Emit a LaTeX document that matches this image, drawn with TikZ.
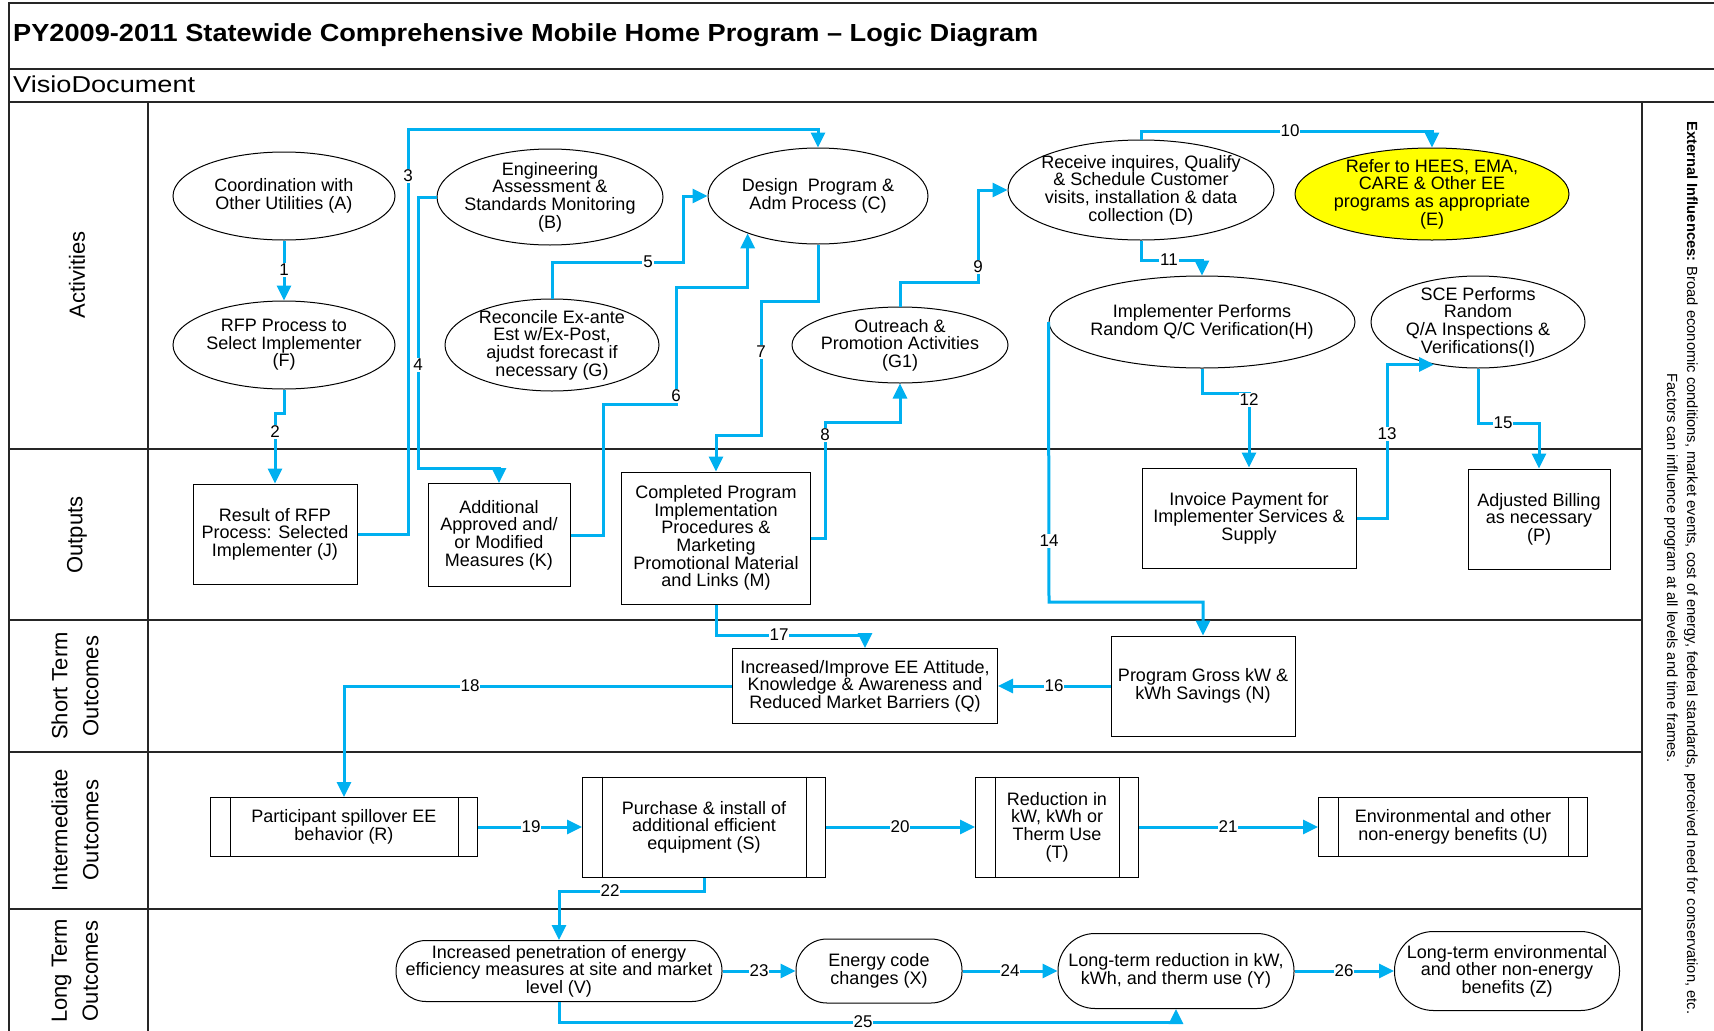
\documentclass[tikz,border=0pt]{standalone}
\usepackage{fontspec}
\setmainfont{Liberation Sans}
\usepackage{graphicx}
\usetikzlibrary{shapes.geometric,arrows.meta,calc}
\definecolor{linkblue}{RGB}{0,176,240}
\definecolor{hiyellow}{RGB}{255,255,0}
\newcommand{\nfnt}{\fontsize{18pt}{17.6pt}\selectfont}
\newcommand{\lfnt}{\fontsize{17pt}{17pt}\selectfont}
\newcommand{\lanefnt}{\fontsize{22pt}{31pt}\selectfont}
\begin{document}
\begin{tikzpicture}[x=1pt,y=-1pt,
  frame/.style={draw=black!85,line width=1.5pt},
  ell/.style={draw=black,line width=1pt,ellipse,inner sep=0pt},
  txt/.style={align=center,font=\nfnt,inner sep=0pt},
  box/.style={draw=black,line width=1pt,rectangle,inner sep=0pt,align=center,font=\nfnt},
  stad/.style={draw=black,line width=1pt,rectangle,inner sep=0pt,align=center,font=\nfnt},
  conn/.style={draw=linkblue,line width=3pt,-{Triangle[length=15pt,width=14pt]}},
  plain/.style={draw=linkblue,line width=3pt},
  lbl/.style={fill=white,inner sep=1pt,font=\lfnt},
  lane/.style={rotate=90,align=center,font=\lanefnt,inner sep=0pt}]
\fill[white] (0,0) rectangle (1714,1031);
\useasboundingbox (0,0) rectangle (1714,1031);

% frame
\draw[frame] (9,1031) -- (9,3) -- (1714,3);
\draw[frame] (9,69) -- (1714,69);
\draw[frame] (9,102) -- (1714,102);
\draw[frame] (148,102) -- (148,1031);
\draw[frame] (1642,102) -- (1642,1031);
\foreach \yy in {449,620,752,909} \draw[frame] (9,\yy) -- (1642,\yy);

\node[anchor=west,inner sep=0pt] (title) at (13,35)
  {\scalebox{1.1}[1]{\fontsize{24.7pt}{26pt}\selectfont\bfseries PY2009-2011 Statewide Comprehensive Mobile Home Program – Logic Diagram}};
\node[anchor=west,inner sep=0pt] (visio) at (13,84)
  {\scalebox{1.18}[1]{\fontsize{23pt}{25pt}\selectfont VisioDocument}};

% lane labels
\node[lane] (lact) at (77,275) {Activities};
\node[lane] (lout) at (77,535) {Outputs};
\node[lane] (lshort) at (75,686) {Short Term\\Outcomes};
\node[lane] (linter) at (75,830) {Intermediate\\Outcomes};
\node[lane] (llong) at (75,971) {Long Term\\Outcomes};

\node[rotate=-90,align=center,inner sep=0pt,font=\fontsize{14.7pt}{20pt}\selectfont] (ext) at (1681,568)
  {\textbf{External Influences:} Broad economic conditions, market events, cost of energy, federal standards, perceived need for conservation, etc.\\Factors can influence program at all levels and time frames.};

% Activities
\node[ell,minimum width=222pt,minimum height=88pt] (A) at (284,196) {};
\node[txt] (At) at (A.center) {Coordination with\\Other Utilities (A)};
\node[ell,minimum width=222pt,minimum height=88pt] (F) at (284,345) {};
\node[txt] (Ft) at (F.center) {RFP Process to\\Select Implementer\\(F)};
\node[ell,minimum width=226pt,minimum height=96pt] (B) at (550,197) {};
\node[txt] (Bt) at (B.center) {Engineering\\Assessment \&\\Standards Monitoring\\(B)};
\node[ell,minimum width=214pt,minimum height=92pt] (G) at (552,345) {};
\node[txt] (Gt) at (G.center) {Reconcile Ex-ante\\Est w/Ex-Post,\\ajudst forecast if\\necessary (G)};
\node[ell,minimum width=220pt,minimum height=96pt] (C) at (818,196) {};
\node[txt] (Ct) at (C.center) {Design\ \ Program \&\\Adm Process (C)};
\node[ell,minimum width=216pt,minimum height=76pt] (G1) at (900,345) {};
\node[txt] (G1t) at (G1.center) {Outreach \&\\Promotion Activities\\(G1)};
\node[ell,minimum width=266pt,minimum height=100pt] (D) at (1141,190) {};
\node[txt] (Dt) at (D.center) {Receive inquires, Qualify\\\& Schedule Customer\\visits, installation \& data\\collection (D)};
\node[ell,fill=hiyellow,minimum width=274pt,minimum height=92pt] (E) at (1432,194) {};
\node[txt] (Et) at (E.center) {Refer to HEES, EMA,\\CARE \& Other EE\\programs as appropriate\\(E)};
\node[ell,minimum width=306pt,minimum height=92pt] (H) at (1202,322) {};
\node[txt] (Ht) at (H.center) {Implementer Performs\\Random Q/C Verification(H)};
\node[ell,minimum width=214pt,minimum height=92pt] (I) at (1478,322) {};
\node[txt] (It) at (I.center) {SCE Performs\\Random\\Q/A Inspections \&\\Verifications(I)};

% Outputs
\node[box,minimum width=164pt,minimum height=100pt] (J) at (275,534) {Result of RFP\\Process: Selected\\Implementer (J)};
\node[box,minimum width=142pt,minimum height=103pt] (K) at (499,535) {Additional\\Approved and/\\or Modified\\Measures (K)};
\node[box,minimum width=189pt,minimum height=132pt] (M) at (716,538) {Completed Program\\Implementation\\Procedures \&\\Marketing\\Promotional Material\\and Links (M)};
\node[box,minimum width=214pt,minimum height=100pt] (Inv) at (1249,518) {Invoice Payment for\\Implementer Services \&\\Supply};
\node[box,minimum width=142pt,minimum height=100pt] (P) at (1539,519) {Adjusted Billing\\as necessary\\(P)};

% Short term
\node[box,minimum width=265pt,minimum height=75pt] (Q) at (865,686) {Increased/Improve EE Attitude,\\Knowledge \& Awareness and\\Reduced Market Barriers (Q)};
\node[box,minimum width=184pt,minimum height=100pt] (N) at (1203,686) {Program Gross kW \&\\kWh Savings (N)};

% Intermediate
\node[box,minimum width=267pt,minimum height=59pt] (R) at (344,827) {Participant spillover EE\\behavior (R)};
\node[box,minimum width=243pt,minimum height=100pt] (S) at (704,827) {Purchase \& install of\\additional efficient\\equipment (S)};
\node[box,minimum width=163pt,minimum height=100pt] (T) at (1057,827) {Reduction in\\kW, kWh or\\Therm Use\\(T)};
\node[box,minimum width=269pt,minimum height=59pt] (U) at (1453,827) {Environmental and other\\non-energy benefits (U)};
\foreach \nn in {R,S,T,U}{
  \draw[line width=1pt] ([xshift=20pt]\nn.north west) -- ([xshift=20pt]\nn.south west);
  \draw[line width=1pt] ([xshift=-20pt]\nn.north east) -- ([xshift=-20pt]\nn.south east);
}

% Long term
\node[stad,rounded corners=30pt,minimum width=326pt,minimum height=61pt] (V) at (559,971) {Increased penetration of energy\\efficiency measures at site and market\\level (V)};
\node[stad,rounded corners=31pt,minimum width=166pt,minimum height=64pt] (X) at (879,971) {Energy code\\changes (X)};
\node[stad,rounded corners=37pt,minimum width=236pt,minimum height=75pt] (Y) at (1176,971) {Long-term reduction in kW,\\kWh, and therm use (Y)};
\node[stad,rounded corners=39pt,minimum width=225pt,minimum height=79pt] (Z) at (1507,971) {Long-term environmental\\and other non-energy\\benefits (Z)};

% connectors
\draw[conn] (A.south) -- (F.north);
\draw[conn] (F.south) -- (284,413) -| (J.north);
\draw[conn] (J.east) -| (408,129) -| (C.north);
\draw[conn] (B.west) -| (418,468) -| (K.north);
\draw[conn] (G.north) |- (683,262) |- (C.west);
\draw[conn] (K.east) -| (603,404) -| (676,287) -| (C.208);
\draw[conn] (C.south) |- (761,301) |- (716,435) -- (M.north);
\draw[conn] (M.east) -| (825,422) -| (G1.south);
\draw[conn] (G1.north) |- (978,282) |- (D.west);
\draw[conn] (D.north) -- (1141,131) -| (E.north);
\draw[conn] (D.south) -- (1141,260) -| (H.north);
\draw[conn] (H.south) -- (1202,393) -| (Inv.north);
\draw[conn] (Inv.east) -- (1387,518) |- (I.224);
\draw[conn] (H.west) -- (1049,602) -| (N.north);
\draw[conn] (I.south) -- (1478,423) -| (P.north);
\draw[conn] (N.west) -- (Q.east);
\draw[conn] (M.south) -- (716,635) -| (Q.north);
\draw[conn] (Q.west) -| (R.north);
\draw[conn] (R.east) -- (S.west);
\draw[conn] (S.east) -- (T.west);
\draw[conn] (T.east) -- (U.west);
\draw[conn] (S.south) -- (704,891) -| (V.north);
\draw[conn] (V.east) -- (X.west);
\draw[conn] (X.east) -- (Y.west);
\draw[conn] (V.south) -- (559,1022) -| (Y.south);
\draw[conn] (Y.east) -- (Z.west);

% connector labels
\node[lbl] (n1) at (284,270) {1};
\node[lbl] (n2) at (275,432) {2};
\node[lbl] (n3) at (408,176) {3};
\node[lbl] (n4) at (418,365) {4};
\node[lbl] (n5) at (648,262) {5};
\node[lbl] (n6) at (676,396) {6};
\node[lbl] (n7) at (761,352) {7};
\node[lbl] (n8) at (825,435) {8};
\node[lbl] (n9) at (978,267) {9};
\node[lbl] (n10) at (1290,131) {10};
\node[lbl] (n11) at (1169,260) {11};
\node[lbl] (n12) at (1249,400) {12};
\node[lbl] (n13) at (1387,434) {13};
\node[lbl] (n14) at (1049,541) {14};
\node[lbl] (n15) at (1503,423) {15};
\node[lbl] (n16) at (1054,686) {16};
\node[lbl] (n17) at (779,635) {17};
\node[lbl] (n18) at (470,686) {18};
\node[lbl] (n19) at (531,827) {19};
\node[lbl] (n20) at (900,827) {20};
\node[lbl] (n21) at (1228,827) {21};
\node[lbl] (n22) at (610,891) {22};
\node[lbl] (n23) at (759,971) {23};
\node[lbl] (n24) at (1010,971) {24};
\node[lbl] (n25) at (863,1022) {25};
\node[lbl] (n26) at (1344,971) {26};
\end{tikzpicture}
\end{document}
